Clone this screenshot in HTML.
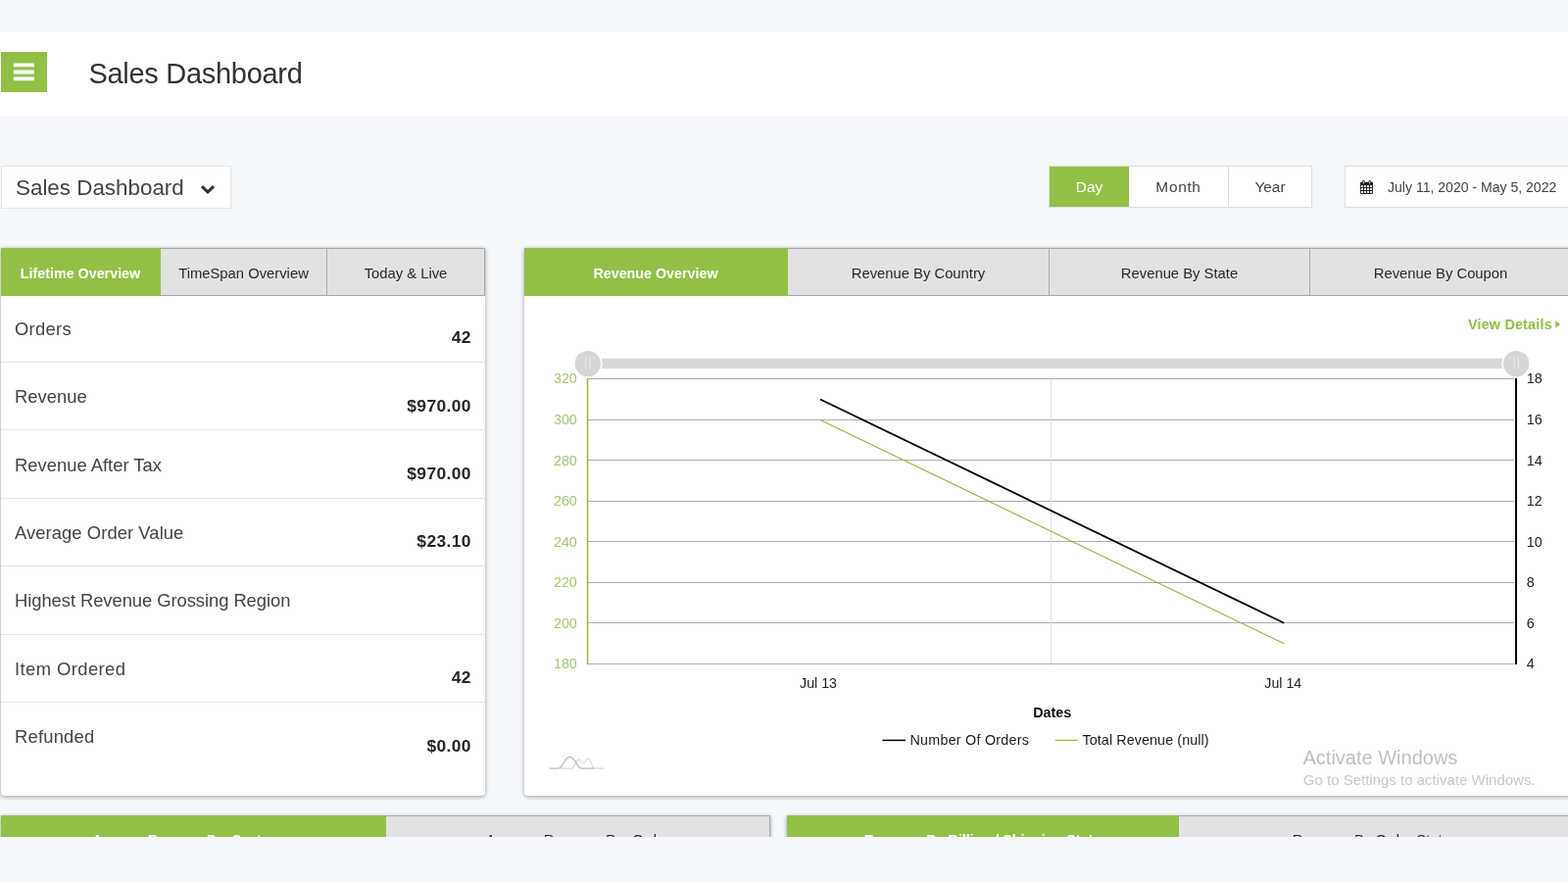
<!DOCTYPE html>
<html lang="en">
<head>
<meta charset="utf-8">
<title>Sales Dashboard</title>
<style>
*{box-sizing:border-box;margin:0;padding:0}
html,body{width:1600px;height:900px;overflow:hidden}
body{background:#f4f7fb;font-family:"Liberation Sans",sans-serif;color:#333;position:relative}
.abs{position:absolute}
#top{left:0;top:32px;width:1600px;height:87px;background:#fff}
#burger{left:1px;top:53px;width:47px;height:41px;background:#92c046}
#title{left:90.5px;top:56.5px;font-size:29px;letter-spacing:-.3px;line-height:36px;color:#333;white-space:nowrap}
#dd{left:1px;top:169px;width:235px;height:44px;background:#fff;border:1px solid #e3e6ea}
#dd span{position:absolute;left:14px;top:7px;font-size:22.4px;line-height:30px;color:#444;white-space:nowrap}
#seg{left:1070px;top:169px;width:269px;height:43px;background:#fff;border:1px solid #dcdcdc}
#seg div{position:absolute;top:0;height:41px;line-height:41px;text-align:center;font-size:15.4px;color:#444}
#date{left:1372px;top:169px;width:240px;height:43px;background:#fff;border:1px solid #dcdcdc}
#date span{position:absolute;left:43px;top:0;line-height:42px;font-size:14.05px;color:#444;white-space:nowrap}
.card{background:#fff;border-radius:0 0 4px 4px;box-shadow:0 1px 4px rgba(0,0,0,.38)}
.tabs{position:absolute;left:0;top:0;right:0;height:49px}
.tab{position:absolute;top:0;height:49px;line-height:50px;text-align:center;font-size:14.8px;color:#292929;background:#e2e2e2;border:1px solid #a9a9a9;border-left:none;white-space:nowrap}
.tab.on{background:#92c046;color:#fff;font-weight:bold;border-color:#92c046;font-size:14.3px}
.row{position:absolute;left:0;width:494px;height:69.4px;border-bottom:1px solid #e4e4e4}
.row .l{position:absolute;left:14px;top:23.2px;font-size:18.4px;line-height:24px;color:#444;white-space:nowrap}
.row .v{position:absolute;right:14.2px;top:31.7px;font-size:17.4px;line-height:24px;font-weight:bold;letter-spacing:.38px;color:#262626;white-space:nowrap}
#clip{left:0;top:854px;width:1600px;height:46px;background:#f4f7fb}
</style>
</head>
<body>
<div id="top" class="abs"></div>
<div id="burger" class="abs"><svg class="abs" style="left:0;top:0" width="47" height="41" viewBox="0 0 47 41"><rect x="12.8" y="11.5" width="21.2" height="3.8" rx="1" fill="#fff"/><rect x="12.8" y="18.6" width="21.2" height="3.8" rx="1" fill="#fff"/><rect x="12.8" y="25.5" width="21.2" height="3.8" rx="1" fill="#fff"/></svg></div>
<div id="title" class="abs">Sales Dashboard</div>

<div id="dd" class="abs"><span>Sales Dashboard</span>
<svg class="abs" style="left:199.8px;top:17px" width="20" height="14" viewBox="0 0 20 14"><path d="M4 3.2 L10 9 L16 3.2" fill="none" stroke="#333" stroke-width="3"/></svg>
</div>

<div id="seg" class="abs">
 <div style="left:0;width:81px;background:#92c046;color:#fff">Day</div>
 <div style="left:81px;width:102px;border-right:1px solid #dcdcdc;letter-spacing:.7px">Month</div>
 <div style="left:183px;width:84px">Year</div>
</div>
<div id="date" class="abs">
 <svg class="abs" style="left:15px;top:14px" width="13" height="14" viewBox="0 0 13 14"><rect x="0" y="1.8" width="13" height="12.1" rx="0.8" fill="#222"/><rect x="0.9" y="5.2" width="2" height="1.9" fill="#fff"/><rect x="0.9" y="8.1" width="2" height="1.9" fill="#fff"/><rect x="0.9" y="11.0" width="2" height="1.9" fill="#fff"/><rect x="4.0" y="5.2" width="2" height="1.9" fill="#fff"/><rect x="4.0" y="8.1" width="2" height="1.9" fill="#fff"/><rect x="4.0" y="11.0" width="2" height="1.9" fill="#fff"/><rect x="7.0" y="5.2" width="2" height="1.9" fill="#fff"/><rect x="7.0" y="8.1" width="2" height="1.9" fill="#fff"/><rect x="7.0" y="11.0" width="2" height="1.9" fill="#fff"/><rect x="10.1" y="5.2" width="2" height="1.9" fill="#fff"/><rect x="10.1" y="8.1" width="2" height="1.9" fill="#fff"/><rect x="10.1" y="11.0" width="2" height="1.9" fill="#fff"/><rect x="2.2" y="0.1" width="2.3" height="4" rx="0.9" fill="#222"/><rect x="8.5" y="0.1" width="2.3" height="4" rx="0.9" fill="#222"/><rect x="2.95" y="0.9" width="0.8" height="2.5" fill="#fff"/><rect x="9.25" y="0.9" width="0.8" height="2.5" fill="#fff"/></svg>
 <span>July 11, 2020 - May 5, 2022</span>
</div>

<div id="card1" class="abs card" style="left:1px;top:253px;width:494px;height:559px">
 <div class="tabs">
  <div class="tab on" style="left:0;width:163px">Lifetime Overview</div>
  <div class="tab" style="left:163px;width:170px">TimeSpan Overview</div>
  <div class="tab" style="left:333px;width:161px">Today &amp; Live</div>
 </div>
 <div class="row" style="top:47.50px"><span class="l" style="letter-spacing:.3px">Orders</span><span class="v">42</span></div>
 <div class="row" style="top:116.92px"><span class="l">Revenue</span><span class="v">$970.00</span></div>
 <div class="row" style="top:186.34px"><span class="l">Revenue After Tax</span><span class="v">$970.00</span></div>
 <div class="row" style="top:255.76px"><span class="l" style="letter-spacing:.07px">Average Order Value</span><span class="v">$23.10</span></div>
 <div class="row" style="top:325.18px"><span class="l" style="letter-spacing:-.06px">Highest Revenue Grossing Region</span><span class="v"></span></div>
 <div class="row" style="top:394.60px"><span class="l" style="letter-spacing:.42px">Item Ordered</span><span class="v">42</span></div>
 <div class="row" style="top:464.02px;border-bottom:none"><span class="l" style="letter-spacing:.2px">Refunded</span><span class="v">$0.00</span></div>
</div>

<div id="card2" class="abs card" style="left:535px;top:253px;width:1069px;height:559px">
 <div class="tabs">
  <div class="tab on" style="left:0;width:269px">Revenue Overview</div>
  <div class="tab" style="left:269px;width:267px">Revenue By Country</div>
  <div class="tab" style="left:536px;width:266px">Revenue By State</div>
  <div class="tab" style="left:802px;width:267px">Revenue By Coupon</div>
 </div>
</div>

<svg id="chart" class="abs" style="left:0;top:0" width="1600" height="900" viewBox="0 0 1600 900" font-family="Liberation Sans, sans-serif">
<rect x="599" y="365.7" width="948" height="10.4" fill="#d9d9d9"/>
<circle cx="599.75" cy="371.1" r="15" fill="#fff"/><circle cx="599.75" cy="371.1" r="13.2" fill="#d6d6d6"/>
<path d="M597.55 363.5V377M601.95 363.5V377" stroke="#fff" stroke-width="1" opacity=".55"/>
<circle cx="1547.25" cy="371.1" r="15" fill="#fff"/><circle cx="1547.25" cy="371.1" r="13.2" fill="#d6d6d6"/>
<path d="M1545.05 363.5V377M1549.45 363.5V377" stroke="#fff" stroke-width="1" opacity=".55"/>
<path d="M599 386.5H1545" stroke="#adadad" stroke-width="1" fill="none"/>
<path d="M599 428.5H1545" stroke="#adadad" stroke-width="1" fill="none"/>
<path d="M599 469.5H1545" stroke="#adadad" stroke-width="1" fill="none"/>
<path d="M599 511.5H1545" stroke="#adadad" stroke-width="1" fill="none"/>
<path d="M599 552.5H1545" stroke="#adadad" stroke-width="1" fill="none"/>
<path d="M599 594.5H1545" stroke="#adadad" stroke-width="1" fill="none"/>
<path d="M599 635.5H1545" stroke="#adadad" stroke-width="1" fill="none"/>
<path d="M599 677.5H1545" stroke="#adadad" stroke-width="1" fill="none"/>
<path d="M1072.5 387V677" stroke="#dedede" stroke-width="1" fill="none"/>
<path d="M599.5 386V678" stroke="#92c046" stroke-width="1.6" fill="none"/>
<path d="M1547 386V678" stroke="#000" stroke-width="2" fill="none"/>
<text x="588.8" y="391.4" text-anchor="end" font-size="14.3" fill="#a8c675">320</text>
<text x="1557.7" y="391.4" font-size="14.3" fill="#222">18</text>
<text x="588.8" y="433.0" text-anchor="end" font-size="14.3" fill="#a8c675">300</text>
<text x="1557.7" y="433.0" font-size="14.3" fill="#222">16</text>
<text x="588.8" y="474.5" text-anchor="end" font-size="14.3" fill="#a8c675">280</text>
<text x="1557.7" y="474.5" font-size="14.3" fill="#222">14</text>
<text x="588.8" y="516.1" text-anchor="end" font-size="14.3" fill="#a8c675">260</text>
<text x="1557.7" y="516.1" font-size="14.3" fill="#222">12</text>
<text x="588.8" y="557.6" text-anchor="end" font-size="14.3" fill="#a8c675">240</text>
<text x="1557.7" y="557.6" font-size="14.3" fill="#222">10</text>
<text x="588.8" y="599.2" text-anchor="end" font-size="14.3" fill="#a8c675">220</text>
<text x="1557.7" y="599.2" font-size="14.3" fill="#222">8</text>
<text x="588.8" y="640.8" text-anchor="end" font-size="14.3" fill="#a8c675">200</text>
<text x="1557.7" y="640.8" font-size="14.3" fill="#222">6</text>
<text x="588.8" y="682.3" text-anchor="end" font-size="14.3" fill="#a8c675">180</text>
<text x="1557.7" y="682.3" font-size="14.3" fill="#222">4</text>
<path d="M837 407.5L1310.3 635.8" stroke="#000" stroke-width="1.8" fill="none"/>
<path d="M837 428.5L1310.3 656.8" stroke="#8fb848" stroke-width="1.2" fill="none"/>
<text x="835" y="702.2" text-anchor="middle" font-size="14.2" fill="#222">Jul 13</text>
<text x="1309.3" y="702.2" text-anchor="middle" font-size="14.2" fill="#222">Jul 14</text>
<text x="1073.7" y="732.3" text-anchor="middle" font-size="14.3" font-weight="bold" fill="#111">Dates</text>
<path d="M900.5 755.4H924" stroke="#000" stroke-width="1.5"/>
<text x="928.5" y="760.3" font-size="14.3" letter-spacing=".25" fill="#222">Number Of Orders</text>
<path d="M1076.5 755.4H1099.5" stroke="#8fb848" stroke-width="1.2"/>
<text x="1104.5" y="760.3" font-size="14.3" letter-spacing=".1" fill="#222">Total Revenue (null)</text>
<text x="1498" y="335.9" font-size="14.3" font-weight="bold" letter-spacing=".22" fill="#92c046">View Details</text>
<path d="M1587.3 327.3L1592 331L1587.3 334.7Z" fill="#92c046"/>
<path d="M571 784.2H583.5C586.8 784.2 587 775 590.5 775C593 775 593 778.8 595.3 778.8C597.7 778.8 597.5 774.2 600 774.2C603.2 774.2 603.5 784.2 607 784.2H616" stroke="#d8d8d8" stroke-width="1.2" fill="none"/>
<path d="M560.6 784.2H569.5C574.5 784.2 576 772.4 581.6 772.4C587.2 772.4 588.5 784.2 594 784.2H606" stroke="#b9b9b9" stroke-width="1.3" fill="none"/>
<text x="1329.5" y="779.6" font-size="20" fill="#c0c0c0">Activate Windows</text>
<text x="1329.8" y="800.6" font-size="15" fill="#c8c8c8">Go to Settings to activate Windows.</text>
</svg>
<div class="abs card" style="left:1px;top:832px;width:785px;height:60px;border-radius:0">
 <div class="tabs">
  <div class="tab on" style="left:0;width:393px;line-height:48px;font-size:13.5px">Average Revenue Per Customer</div>
  <div class="tab" style="left:393px;width:392px;line-height:48px">Average Revenue Per Order</div>
 </div>
</div>
<div class="abs card" style="left:803px;top:832px;width:801px;height:60px;border-radius:0">
 <div class="tabs">
  <div class="tab on" style="left:0;width:400px;line-height:48px">Revenue By Billing / Shipping State</div>
  <div class="tab" style="left:400px;width:401px;line-height:48px">Revenue By Order Status</div>
 </div>
</div>
<div id="clip" class="abs"></div>
</body>
</html>
